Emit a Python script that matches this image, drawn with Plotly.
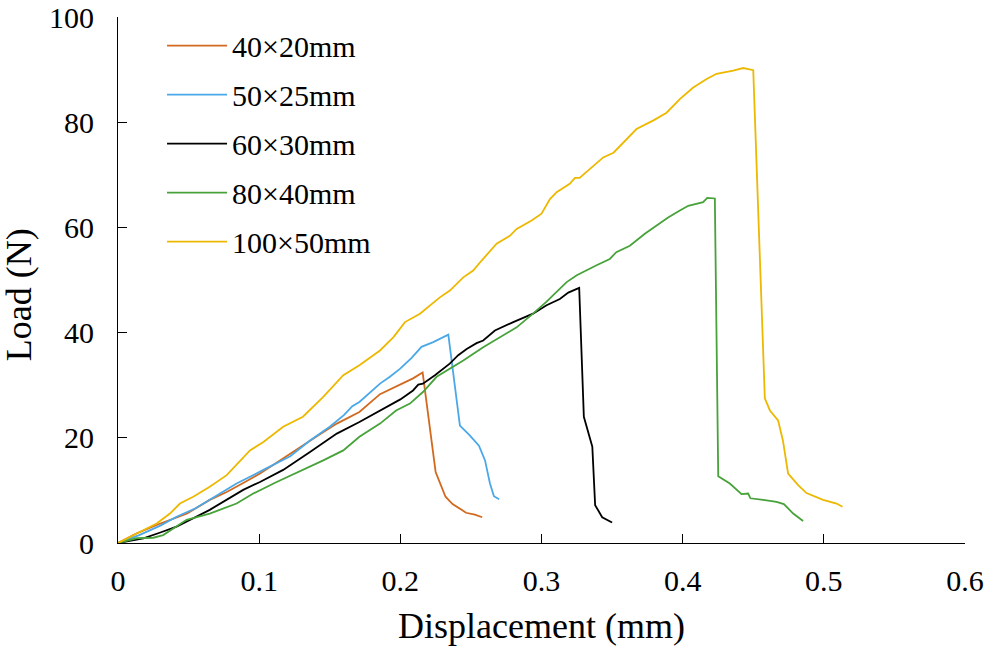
import plotly.graph_objects as go

# Load-displacement curves
names = ["40×20mm", "50×25mm", "60×30mm", "80×40mm", "100×50mm"]

x_40 = [0, 0.013, 0.03, 0.049, 0.065, 0.077, 0.09, 0.1006, 0.112, 0.122, 0.136, 0.145, 0.155, 0.163,
        0.171, 0.1856, 0.197, 0.202, 0.209, 0.2158, 0.225, 0.232, 0.237, 0.2434, 0.2465, 0.2528, 0.258]
y_40 = [0, 1.8, 3.7, 5.6, 8.2, 9.7, 11.6, 13.2, 15.2, 17.0, 19.5, 21.0, 22.7, 23.8,
        24.9, 28.3, 29.7, 30.4, 31.3, 32.4, 13.5, 8.8, 7.4, 6.3, 5.75, 5.4, 4.9]

x_50 = [0, 0.015, 0.03, 0.0415, 0.055, 0.065, 0.084, 0.103, 0.122, 0.136, 0.15, 0.16, 0.166, 0.171,
        0.1856, 0.1926, 0.1997, 0.208, 0.215, 0.2233, 0.234, 0.2422, 0.249, 0.2557, 0.26, 0.2635,
        0.2663, 0.27]
y_50 = [0, 1.5, 3.3, 5.0, 6.6, 8.2, 11.3, 13.9, 16.5, 19.5, 22.1, 24.3, 26.0, 26.8,
        30.3, 31.6, 33.1, 35.2, 37.3, 38.2, 39.6, 22.3, 20.5, 18.5, 15.7, 11.3,
        8.9, 8.3]

x_60 = [0, 0.018, 0.03, 0.0415, 0.065, 0.0887, 0.1006, 0.117, 0.136, 0.155, 0.171, 0.1856, 0.2,
        0.209, 0.2127, 0.216, 0.2245, 0.235, 0.241, 0.247, 0.254, 0.2587, 0.267, 0.28, 0.294,
        0.3036, 0.313, 0.319, 0.3267, 0.330, 0.336, 0.338, 0.343, 0.350]
y_60 = [0, 0.9, 2.0, 3.1, 6.3, 10.1, 11.6, 13.9, 17.3, 20.8, 23.0, 25.2, 27.3,
        29.0, 30.1, 30.3, 31.9, 34.1, 35.7, 36.9, 38.0, 38.5, 40.4, 42.0, 43.6,
        45.2, 46.4, 47.6, 48.5, 24.0, 18.3, 7.2, 4.9, 3.9]

x_80 = [0, 0.0132, 0.025, 0.032, 0.0486, 0.065, 0.084, 0.0958, 0.1124, 0.131, 0.1454, 0.1596,
        0.171, 0.1856, 0.197, 0.2068, 0.216, 0.2257, 0.2446, 0.2587, 0.2824, 0.294, 0.3036,
        0.3178, 0.325, 0.339, 0.3484, 0.353, 0.3626, 0.3732, 0.3815, 0.3897, 0.398, 0.404,
        0.4145, 0.4174, 0.4228, 0.4252, 0.4334, 0.4417, 0.4464, 0.448, 0.457, 0.4665, 0.4717,
        0.4783, 0.4853]
y_80 = [0, 0.9, 1.0, 1.5, 4.4, 5.6, 7.5, 9.4, 11.6, 13.9, 15.7, 17.6,
        20.2, 22.7, 25.2, 26.5, 28.7, 31.6, 34.7, 37.2, 41.0, 43.6, 45.9,
        49.6, 50.9, 52.8, 54.0, 55.3, 56.5, 58.8, 60.3, 61.9, 63.2, 64.1,
        64.8, 65.6, 65.5, 12.7, 11.3, 9.3, 9.4, 8.5, 8.2, 7.8, 7.4,
        5.6, 4.2]

x_100 = [0, 0.018, 0.0274, 0.0368, 0.0439, 0.0533, 0.065, 0.077, 0.0935, 0.103, 0.117, 0.131,
         0.1454, 0.1596, 0.171, 0.1856, 0.195, 0.2033, 0.2139, 0.228, 0.2351, 0.2446, 0.2516,
         0.2576, 0.2682, 0.2776, 0.2824, 0.293, 0.300, 0.306, 0.3107, 0.320, 0.3237, 0.327,
         0.3366, 0.3437, 0.351, 0.359, 0.3673, 0.379, 0.3886, 0.398, 0.4075, 0.417, 0.424,
         0.4358, 0.4429, 0.45, 0.4582, 0.4618, 0.4676, 0.471, 0.4747, 0.4818, 0.4877, 0.4995,
         0.509, 0.5132]
y_100 = [0, 2.5, 3.7, 5.6, 7.5, 8.8, 10.7, 12.9, 17.6, 19.2, 22.1, 24.0,
         27.8, 31.9, 33.8, 36.6, 39.1, 42.0, 43.6, 46.7, 48.0, 50.5, 51.8,
         53.7, 56.9, 58.4, 59.7, 61.3, 62.6, 65.4, 66.7, 68.3, 69.4, 69.4,
         71.7, 73.3, 74.2, 76.5, 78.7, 80.3, 81.8, 84.4, 86.6, 88.2, 89.2,
         89.8, 90.3, 89.9, 27.5, 25.2, 23.3, 19.5, 13.2, 11.0, 9.5, 8.2,
         7.5, 6.9]

xs = [x_40, x_50, x_60, x_80, x_100]
ys = [y_40, y_50, y_60, y_80, y_100]
colors = ["#D2691E", "#4AA8E8", "#000000", "#47A23A", "#EDB800"]

font = "Liberation Serif, Times New Roman, serif"

fig = go.Figure()
for i, name in enumerate(names):
    fig.add_trace(go.Scatter(
        x=xs[i], y=ys[i], mode="lines", name=name,
        legendgroup=name,
        line=dict(color=colors[i], width=1.8),
    ))

fig.update_layout(
    width=989, height=649,
    margin=dict(l=118, r=24, t=17, b=106),
    plot_bgcolor="white", paper_bgcolor="white",
    font=dict(family=font, size=30, color="black"),
    legend=dict(x=0.052, y=0.995, xanchor="left", yanchor="top",
                font=dict(size=30), bgcolor="rgba(0,0,0,0)",
                tracegroupgap=7, itemwidth=60),
    xaxis=dict(
        range=[0, 0.6], dtick=0.1, tickformat="~g",
        showline=True, linecolor="black", linewidth=1.2,
        ticks="inside", ticklen=9, tickcolor="black",
        showgrid=False, zeroline=False, automargin=False,
        ticklabelstandoff=11, ticklabeloverflow="allow",
        title=dict(text="Displacement (mm)", font=dict(size=36), standoff=16),
    ),
    yaxis=dict(
        range=[0, 100], dtick=20,
        showline=True, linecolor="black", linewidth=1.2,
        ticks="inside", ticklen=9, tickcolor="black",
        showgrid=False, zeroline=False, automargin=False,
        ticklabelstandoff=17, ticklabeloverflow="allow",
    ),
    showlegend=True,
)

# y title sits a little below the middle of the axis in the original
fig.add_annotation(
    text="Load (N)", textangle=-90, font=dict(size=36),
    xref="paper", yref="paper", x=-0.116, y=0.4725,
    xanchor="center", yanchor="middle", showarrow=False,
)

# drop the default 8px page margin so the figure fills the window
fig.write_html("out.html", config={"displayModeBar": False},
               post_script="document.body.style.margin='0';")
